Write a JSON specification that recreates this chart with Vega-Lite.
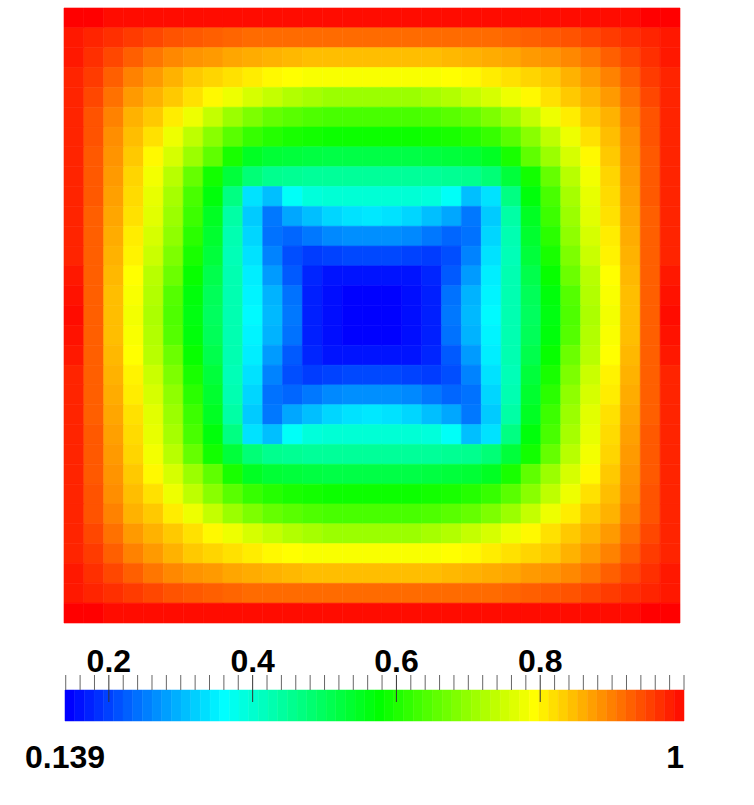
{"$schema":"https://vega.github.io/schema/vega-lite/v6.json","background":"white","padding":{"left":24,"top":7,"right":0,"bottom":0},"bounds":"flush","spacing":67,"config":{"view":{"stroke":null}},"vconcat":[{"width":616,"height":615,"data":{"values":[
{"x":0,"y":0,"v":1},{"x":1,"y":0,"v":1},{"x":2,"y":0,"v":0.99},{"x":3,"y":0,"v":0.99},{"x":4,"y":0,"v":0.99},{"x":5,"y":0,"v":0.99},{"x":6,"y":0,"v":0.99},{"x":7,"y":0,"v":0.99},{"x":8,"y":0,"v":0.99},{"x":9,"y":0,"v":0.99},{"x":10,"y":0,"v":0.99},{"x":11,"y":0,"v":0.99},{"x":12,"y":0,"v":0.99},{"x":13,"y":0,"v":0.99},{"x":14,"y":0,"v":0.99},{"x":15,"y":0,"v":0.99},{"x":16,"y":0,"v":0.99},{"x":17,"y":0,"v":0.99},{"x":18,"y":0,"v":0.99},{"x":19,"y":0,"v":0.99},{"x":20,"y":0,"v":0.99},{"x":21,"y":0,"v":0.99},{"x":22,"y":0,"v":0.99},{"x":23,"y":0,"v":0.99},{"x":24,"y":0,"v":0.99},{"x":25,"y":0,"v":0.99},{"x":26,"y":0,"v":0.99},{"x":27,"y":0,"v":0.99},{"x":28,"y":0,"v":0.99},{"x":29,"y":0,"v":1},{"x":30,"y":0,"v":1},
{"x":0,"y":1,"v":0.98},{"x":1,"y":1,"v":0.97},{"x":2,"y":1,"v":0.96},{"x":3,"y":1,"v":0.95},{"x":4,"y":1,"v":0.94},{"x":5,"y":1,"v":0.93},{"x":6,"y":1,"v":0.925},{"x":7,"y":1,"v":0.92},{"x":8,"y":1,"v":0.915},{"x":9,"y":1,"v":0.91},{"x":10,"y":1,"v":0.91},{"x":11,"y":1,"v":0.91},{"x":12,"y":1,"v":0.91},{"x":13,"y":1,"v":0.91},{"x":14,"y":1,"v":0.91},{"x":15,"y":1,"v":0.91},{"x":16,"y":1,"v":0.91},{"x":17,"y":1,"v":0.91},{"x":18,"y":1,"v":0.91},{"x":19,"y":1,"v":0.91},{"x":20,"y":1,"v":0.91},{"x":21,"y":1,"v":0.91},{"x":22,"y":1,"v":0.915},{"x":23,"y":1,"v":0.92},{"x":24,"y":1,"v":0.925},{"x":25,"y":1,"v":0.93},{"x":26,"y":1,"v":0.94},{"x":27,"y":1,"v":0.95},{"x":28,"y":1,"v":0.96},{"x":29,"y":1,"v":0.97},{"x":30,"y":1,"v":0.98},
{"x":0,"y":2,"v":0.98},{"x":1,"y":2,"v":0.96},{"x":2,"y":2,"v":0.94},{"x":3,"y":2,"v":0.92},{"x":4,"y":2,"v":0.9},{"x":5,"y":2,"v":0.885},{"x":6,"y":2,"v":0.875},{"x":7,"y":2,"v":0.87},{"x":8,"y":2,"v":0.86},{"x":9,"y":2,"v":0.855},{"x":10,"y":2,"v":0.85},{"x":11,"y":2,"v":0.845},{"x":12,"y":2,"v":0.84},{"x":13,"y":2,"v":0.84},{"x":14,"y":2,"v":0.84},{"x":15,"y":2,"v":0.84},{"x":16,"y":2,"v":0.84},{"x":17,"y":2,"v":0.84},{"x":18,"y":2,"v":0.84},{"x":19,"y":2,"v":0.845},{"x":20,"y":2,"v":0.85},{"x":21,"y":2,"v":0.855},{"x":22,"y":2,"v":0.86},{"x":23,"y":2,"v":0.87},{"x":24,"y":2,"v":0.875},{"x":25,"y":2,"v":0.885},{"x":26,"y":2,"v":0.9},{"x":27,"y":2,"v":0.92},{"x":28,"y":2,"v":0.94},{"x":29,"y":2,"v":0.96},{"x":30,"y":2,"v":0.98},
{"x":0,"y":3,"v":0.97},{"x":1,"y":3,"v":0.95},{"x":2,"y":3,"v":0.92},{"x":3,"y":3,"v":0.89},{"x":4,"y":3,"v":0.87},{"x":5,"y":3,"v":0.85},{"x":6,"y":3,"v":0.83},{"x":7,"y":3,"v":0.82},{"x":8,"y":3,"v":0.81},{"x":9,"y":3,"v":0.8},{"x":10,"y":3,"v":0.79},{"x":11,"y":3,"v":0.785},{"x":12,"y":3,"v":0.78},{"x":13,"y":3,"v":0.78},{"x":14,"y":3,"v":0.78},{"x":15,"y":3,"v":0.78},{"x":16,"y":3,"v":0.78},{"x":17,"y":3,"v":0.78},{"x":18,"y":3,"v":0.78},{"x":19,"y":3,"v":0.785},{"x":20,"y":3,"v":0.79},{"x":21,"y":3,"v":0.8},{"x":22,"y":3,"v":0.81},{"x":23,"y":3,"v":0.82},{"x":24,"y":3,"v":0.83},{"x":25,"y":3,"v":0.85},{"x":26,"y":3,"v":0.87},{"x":27,"y":3,"v":0.89},{"x":28,"y":3,"v":0.92},{"x":29,"y":3,"v":0.95},{"x":30,"y":3,"v":0.97},
{"x":0,"y":4,"v":0.97},{"x":1,"y":4,"v":0.94},{"x":2,"y":4,"v":0.905},{"x":3,"y":4,"v":0.87},{"x":4,"y":4,"v":0.85},{"x":5,"y":4,"v":0.83},{"x":6,"y":4,"v":0.81},{"x":7,"y":4,"v":0.79},{"x":8,"y":4,"v":0.77},{"x":9,"y":4,"v":0.75},{"x":10,"y":4,"v":0.735},{"x":11,"y":4,"v":0.72},{"x":12,"y":4,"v":0.71},{"x":13,"y":4,"v":0.7},{"x":14,"y":4,"v":0.7},{"x":15,"y":4,"v":0.7},{"x":16,"y":4,"v":0.7},{"x":17,"y":4,"v":0.7},{"x":18,"y":4,"v":0.71},{"x":19,"y":4,"v":0.72},{"x":20,"y":4,"v":0.735},{"x":21,"y":4,"v":0.75},{"x":22,"y":4,"v":0.77},{"x":23,"y":4,"v":0.79},{"x":24,"y":4,"v":0.81},{"x":25,"y":4,"v":0.83},{"x":26,"y":4,"v":0.85},{"x":27,"y":4,"v":0.87},{"x":28,"y":4,"v":0.905},{"x":29,"y":4,"v":0.94},{"x":30,"y":4,"v":0.97},
{"x":0,"y":5,"v":0.97},{"x":1,"y":5,"v":0.93},{"x":2,"y":5,"v":0.89},{"x":3,"y":5,"v":0.85},{"x":4,"y":5,"v":0.83},{"x":5,"y":5,"v":0.8},{"x":6,"y":5,"v":0.77},{"x":7,"y":5,"v":0.735},{"x":8,"y":5,"v":0.7},{"x":9,"y":5,"v":0.675},{"x":10,"y":5,"v":0.655},{"x":11,"y":5,"v":0.645},{"x":12,"y":5,"v":0.635},{"x":13,"y":5,"v":0.63},{"x":14,"y":5,"v":0.63},{"x":15,"y":5,"v":0.63},{"x":16,"y":5,"v":0.63},{"x":17,"y":5,"v":0.63},{"x":18,"y":5,"v":0.635},{"x":19,"y":5,"v":0.645},{"x":20,"y":5,"v":0.655},{"x":21,"y":5,"v":0.675},{"x":22,"y":5,"v":0.7},{"x":23,"y":5,"v":0.735},{"x":24,"y":5,"v":0.77},{"x":25,"y":5,"v":0.8},{"x":26,"y":5,"v":0.83},{"x":27,"y":5,"v":0.85},{"x":28,"y":5,"v":0.89},{"x":29,"y":5,"v":0.93},{"x":30,"y":5,"v":0.97},
{"x":0,"y":6,"v":0.97},{"x":1,"y":6,"v":0.93},{"x":2,"y":6,"v":0.88},{"x":3,"y":6,"v":0.84},{"x":4,"y":6,"v":0.81},{"x":5,"y":6,"v":0.77},{"x":6,"y":6,"v":0.73},{"x":7,"y":6,"v":0.685},{"x":8,"y":6,"v":0.645},{"x":9,"y":6,"v":0.615},{"x":10,"y":6,"v":0.6},{"x":11,"y":6,"v":0.59},{"x":12,"y":6,"v":0.585},{"x":13,"y":6,"v":0.58},{"x":14,"y":6,"v":0.58},{"x":15,"y":6,"v":0.58},{"x":16,"y":6,"v":0.58},{"x":17,"y":6,"v":0.58},{"x":18,"y":6,"v":0.585},{"x":19,"y":6,"v":0.59},{"x":20,"y":6,"v":0.6},{"x":21,"y":6,"v":0.615},{"x":22,"y":6,"v":0.645},{"x":23,"y":6,"v":0.685},{"x":24,"y":6,"v":0.73},{"x":25,"y":6,"v":0.77},{"x":26,"y":6,"v":0.81},{"x":27,"y":6,"v":0.84},{"x":28,"y":6,"v":0.88},{"x":29,"y":6,"v":0.93},{"x":30,"y":6,"v":0.97},
{"x":0,"y":7,"v":0.97},{"x":1,"y":7,"v":0.925},{"x":2,"y":7,"v":0.875},{"x":3,"y":7,"v":0.83},{"x":4,"y":7,"v":0.79},{"x":5,"y":7,"v":0.75},{"x":6,"y":7,"v":0.7},{"x":7,"y":7,"v":0.65},{"x":8,"y":7,"v":0.59},{"x":9,"y":7,"v":0.54},{"x":10,"y":7,"v":0.525},{"x":11,"y":7,"v":0.52},{"x":12,"y":7,"v":0.515},{"x":13,"y":7,"v":0.51},{"x":14,"y":7,"v":0.51},{"x":15,"y":7,"v":0.51},{"x":16,"y":7,"v":0.51},{"x":17,"y":7,"v":0.51},{"x":18,"y":7,"v":0.515},{"x":19,"y":7,"v":0.52},{"x":20,"y":7,"v":0.525},{"x":21,"y":7,"v":0.54},{"x":22,"y":7,"v":0.59},{"x":23,"y":7,"v":0.65},{"x":24,"y":7,"v":0.7},{"x":25,"y":7,"v":0.75},{"x":26,"y":7,"v":0.79},{"x":27,"y":7,"v":0.83},{"x":28,"y":7,"v":0.875},{"x":29,"y":7,"v":0.925},{"x":30,"y":7,"v":0.97},
{"x":0,"y":8,"v":0.97},{"x":1,"y":8,"v":0.925},{"x":2,"y":8,"v":0.87},{"x":3,"y":8,"v":0.82},{"x":4,"y":8,"v":0.775},{"x":5,"y":8,"v":0.725},{"x":6,"y":8,"v":0.655},{"x":7,"y":8,"v":0.585},{"x":8,"y":8,"v":0.52},{"x":9,"y":8,"v":0.47},{"x":10,"y":8,"v":0.45},{"x":11,"y":8,"v":0.445},{"x":12,"y":8,"v":0.44},{"x":13,"y":8,"v":0.44},{"x":14,"y":8,"v":0.44},{"x":15,"y":8,"v":0.44},{"x":16,"y":8,"v":0.44},{"x":17,"y":8,"v":0.44},{"x":18,"y":8,"v":0.44},{"x":19,"y":8,"v":0.445},{"x":20,"y":8,"v":0.45},{"x":21,"y":8,"v":0.47},{"x":22,"y":8,"v":0.52},{"x":23,"y":8,"v":0.585},{"x":24,"y":8,"v":0.655},{"x":25,"y":8,"v":0.725},{"x":26,"y":8,"v":0.775},{"x":27,"y":8,"v":0.82},{"x":28,"y":8,"v":0.87},{"x":29,"y":8,"v":0.925},{"x":30,"y":8,"v":0.97},
{"x":0,"y":9,"v":0.97},{"x":1,"y":9,"v":0.925},{"x":2,"y":9,"v":0.865},{"x":3,"y":9,"v":0.815},{"x":4,"y":9,"v":0.765},{"x":5,"y":9,"v":0.71},{"x":6,"y":9,"v":0.63},{"x":7,"y":9,"v":0.56},{"x":8,"y":9,"v":0.46},{"x":9,"y":9,"v":0.33},{"x":10,"y":9,"v":0.3},{"x":11,"y":9,"v":0.36},{"x":12,"y":9,"v":0.385},{"x":13,"y":9,"v":0.39},{"x":14,"y":9,"v":0.39},{"x":15,"y":9,"v":0.39},{"x":16,"y":9,"v":0.39},{"x":17,"y":9,"v":0.39},{"x":18,"y":9,"v":0.385},{"x":19,"y":9,"v":0.36},{"x":20,"y":9,"v":0.3},{"x":21,"y":9,"v":0.33},{"x":22,"y":9,"v":0.46},{"x":23,"y":9,"v":0.56},{"x":24,"y":9,"v":0.63},{"x":25,"y":9,"v":0.71},{"x":26,"y":9,"v":0.765},{"x":27,"y":9,"v":0.815},{"x":28,"y":9,"v":0.865},{"x":29,"y":9,"v":0.925},{"x":30,"y":9,"v":0.97},
{"x":0,"y":10,"v":0.97},{"x":1,"y":10,"v":0.92},{"x":2,"y":10,"v":0.86},{"x":3,"y":10,"v":0.81},{"x":4,"y":10,"v":0.76},{"x":5,"y":10,"v":0.7},{"x":6,"y":10,"v":0.62},{"x":7,"y":10,"v":0.54},{"x":8,"y":10,"v":0.43},{"x":9,"y":10,"v":0.31},{"x":10,"y":10,"v":0.24},{"x":11,"y":10,"v":0.28},{"x":12,"y":10,"v":0.3},{"x":13,"y":10,"v":0.32},{"x":14,"y":10,"v":0.33},{"x":15,"y":10,"v":0.335},{"x":16,"y":10,"v":0.33},{"x":17,"y":10,"v":0.32},{"x":18,"y":10,"v":0.3},{"x":19,"y":10,"v":0.28},{"x":20,"y":10,"v":0.24},{"x":21,"y":10,"v":0.31},{"x":22,"y":10,"v":0.43},{"x":23,"y":10,"v":0.54},{"x":24,"y":10,"v":0.62},{"x":25,"y":10,"v":0.7},{"x":26,"y":10,"v":0.76},{"x":27,"y":10,"v":0.81},{"x":28,"y":10,"v":0.86},{"x":29,"y":10,"v":0.92},{"x":30,"y":10,"v":0.97},
{"x":0,"y":11,"v":0.97},{"x":1,"y":11,"v":0.92},{"x":2,"y":11,"v":0.855},{"x":3,"y":11,"v":0.8},{"x":4,"y":11,"v":0.75},{"x":5,"y":11,"v":0.69},{"x":6,"y":11,"v":0.605},{"x":7,"y":11,"v":0.53},{"x":8,"y":11,"v":0.42},{"x":9,"y":11,"v":0.32},{"x":10,"y":11,"v":0.235},{"x":11,"y":11,"v":0.225},{"x":12,"y":11,"v":0.24},{"x":13,"y":11,"v":0.255},{"x":14,"y":11,"v":0.26},{"x":15,"y":11,"v":0.26},{"x":16,"y":11,"v":0.26},{"x":17,"y":11,"v":0.255},{"x":18,"y":11,"v":0.24},{"x":19,"y":11,"v":0.225},{"x":20,"y":11,"v":0.235},{"x":21,"y":11,"v":0.32},{"x":22,"y":11,"v":0.42},{"x":23,"y":11,"v":0.53},{"x":24,"y":11,"v":0.605},{"x":25,"y":11,"v":0.69},{"x":26,"y":11,"v":0.75},{"x":27,"y":11,"v":0.8},{"x":28,"y":11,"v":0.855},{"x":29,"y":11,"v":0.92},{"x":30,"y":11,"v":0.97},
{"x":0,"y":12,"v":0.97},{"x":1,"y":12,"v":0.92},{"x":2,"y":12,"v":0.85},{"x":3,"y":12,"v":0.795},{"x":4,"y":12,"v":0.74},{"x":5,"y":12,"v":0.675},{"x":6,"y":12,"v":0.59},{"x":7,"y":12,"v":0.52},{"x":8,"y":12,"v":0.415},{"x":9,"y":12,"v":0.33},{"x":10,"y":12,"v":0.25},{"x":11,"y":12,"v":0.205},{"x":12,"y":12,"v":0.19},{"x":13,"y":12,"v":0.195},{"x":14,"y":12,"v":0.2},{"x":15,"y":12,"v":0.2},{"x":16,"y":12,"v":0.2},{"x":17,"y":12,"v":0.195},{"x":18,"y":12,"v":0.19},{"x":19,"y":12,"v":0.205},{"x":20,"y":12,"v":0.25},{"x":21,"y":12,"v":0.33},{"x":22,"y":12,"v":0.415},{"x":23,"y":12,"v":0.52},{"x":24,"y":12,"v":0.59},{"x":25,"y":12,"v":0.675},{"x":26,"y":12,"v":0.74},{"x":27,"y":12,"v":0.795},{"x":28,"y":12,"v":0.85},{"x":29,"y":12,"v":0.92},{"x":30,"y":12,"v":0.97},
{"x":0,"y":13,"v":0.98},{"x":1,"y":13,"v":0.92},{"x":2,"y":13,"v":0.845},{"x":3,"y":13,"v":0.785},{"x":4,"y":13,"v":0.725},{"x":5,"y":13,"v":0.66},{"x":6,"y":13,"v":0.575},{"x":7,"y":13,"v":0.505},{"x":8,"y":13,"v":0.42},{"x":9,"y":13,"v":0.34},{"x":10,"y":13,"v":0.27},{"x":11,"y":13,"v":0.215},{"x":12,"y":13,"v":0.17},{"x":13,"y":13,"v":0.155},{"x":14,"y":13,"v":0.155},{"x":15,"y":13,"v":0.155},{"x":16,"y":13,"v":0.155},{"x":17,"y":13,"v":0.155},{"x":18,"y":13,"v":0.17},{"x":19,"y":13,"v":0.215},{"x":20,"y":13,"v":0.27},{"x":21,"y":13,"v":0.34},{"x":22,"y":13,"v":0.42},{"x":23,"y":13,"v":0.505},{"x":24,"y":13,"v":0.575},{"x":25,"y":13,"v":0.66},{"x":26,"y":13,"v":0.725},{"x":27,"y":13,"v":0.785},{"x":28,"y":13,"v":0.845},{"x":29,"y":13,"v":0.92},{"x":30,"y":13,"v":0.98},
{"x":0,"y":14,"v":0.985},{"x":1,"y":14,"v":0.92},{"x":2,"y":14,"v":0.84},{"x":3,"y":14,"v":0.78},{"x":4,"y":14,"v":0.72},{"x":5,"y":14,"v":0.64},{"x":6,"y":14,"v":0.56},{"x":7,"y":14,"v":0.495},{"x":8,"y":14,"v":0.42},{"x":9,"y":14,"v":0.345},{"x":10,"y":14,"v":0.29},{"x":11,"y":14,"v":0.235},{"x":12,"y":14,"v":0.165},{"x":13,"y":14,"v":0.15},{"x":14,"y":14,"v":0.14},{"x":15,"y":14,"v":0.14},{"x":16,"y":14,"v":0.14},{"x":17,"y":14,"v":0.15},{"x":18,"y":14,"v":0.165},{"x":19,"y":14,"v":0.235},{"x":20,"y":14,"v":0.29},{"x":21,"y":14,"v":0.345},{"x":22,"y":14,"v":0.42},{"x":23,"y":14,"v":0.495},{"x":24,"y":14,"v":0.56},{"x":25,"y":14,"v":0.64},{"x":26,"y":14,"v":0.72},{"x":27,"y":14,"v":0.78},{"x":28,"y":14,"v":0.84},{"x":29,"y":14,"v":0.92},{"x":30,"y":14,"v":0.985},
{"x":0,"y":15,"v":0.99},{"x":1,"y":15,"v":0.92},{"x":2,"y":15,"v":0.84},{"x":3,"y":15,"v":0.775},{"x":4,"y":15,"v":0.715},{"x":5,"y":15,"v":0.635},{"x":6,"y":15,"v":0.555},{"x":7,"y":15,"v":0.49},{"x":8,"y":15,"v":0.42},{"x":9,"y":15,"v":0.35},{"x":10,"y":15,"v":0.295},{"x":11,"y":15,"v":0.24},{"x":12,"y":15,"v":0.165},{"x":13,"y":15,"v":0.15},{"x":14,"y":15,"v":0.14},{"x":15,"y":15,"v":0.139},{"x":16,"y":15,"v":0.14},{"x":17,"y":15,"v":0.15},{"x":18,"y":15,"v":0.165},{"x":19,"y":15,"v":0.24},{"x":20,"y":15,"v":0.295},{"x":21,"y":15,"v":0.35},{"x":22,"y":15,"v":0.42},{"x":23,"y":15,"v":0.49},{"x":24,"y":15,"v":0.555},{"x":25,"y":15,"v":0.635},{"x":26,"y":15,"v":0.715},{"x":27,"y":15,"v":0.775},{"x":28,"y":15,"v":0.84},{"x":29,"y":15,"v":0.92},{"x":30,"y":15,"v":0.99},
{"x":0,"y":16,"v":0.985},{"x":1,"y":16,"v":0.92},{"x":2,"y":16,"v":0.84},{"x":3,"y":16,"v":0.78},{"x":4,"y":16,"v":0.72},{"x":5,"y":16,"v":0.64},{"x":6,"y":16,"v":0.56},{"x":7,"y":16,"v":0.495},{"x":8,"y":16,"v":0.42},{"x":9,"y":16,"v":0.345},{"x":10,"y":16,"v":0.29},{"x":11,"y":16,"v":0.235},{"x":12,"y":16,"v":0.165},{"x":13,"y":16,"v":0.15},{"x":14,"y":16,"v":0.14},{"x":15,"y":16,"v":0.14},{"x":16,"y":16,"v":0.14},{"x":17,"y":16,"v":0.15},{"x":18,"y":16,"v":0.165},{"x":19,"y":16,"v":0.235},{"x":20,"y":16,"v":0.29},{"x":21,"y":16,"v":0.345},{"x":22,"y":16,"v":0.42},{"x":23,"y":16,"v":0.495},{"x":24,"y":16,"v":0.56},{"x":25,"y":16,"v":0.64},{"x":26,"y":16,"v":0.72},{"x":27,"y":16,"v":0.78},{"x":28,"y":16,"v":0.84},{"x":29,"y":16,"v":0.92},{"x":30,"y":16,"v":0.985},
{"x":0,"y":17,"v":0.98},{"x":1,"y":17,"v":0.92},{"x":2,"y":17,"v":0.845},{"x":3,"y":17,"v":0.785},{"x":4,"y":17,"v":0.725},{"x":5,"y":17,"v":0.66},{"x":6,"y":17,"v":0.575},{"x":7,"y":17,"v":0.505},{"x":8,"y":17,"v":0.42},{"x":9,"y":17,"v":0.34},{"x":10,"y":17,"v":0.27},{"x":11,"y":17,"v":0.215},{"x":12,"y":17,"v":0.17},{"x":13,"y":17,"v":0.155},{"x":14,"y":17,"v":0.155},{"x":15,"y":17,"v":0.155},{"x":16,"y":17,"v":0.155},{"x":17,"y":17,"v":0.155},{"x":18,"y":17,"v":0.17},{"x":19,"y":17,"v":0.215},{"x":20,"y":17,"v":0.27},{"x":21,"y":17,"v":0.34},{"x":22,"y":17,"v":0.42},{"x":23,"y":17,"v":0.505},{"x":24,"y":17,"v":0.575},{"x":25,"y":17,"v":0.66},{"x":26,"y":17,"v":0.725},{"x":27,"y":17,"v":0.785},{"x":28,"y":17,"v":0.845},{"x":29,"y":17,"v":0.92},{"x":30,"y":17,"v":0.98},
{"x":0,"y":18,"v":0.97},{"x":1,"y":18,"v":0.92},{"x":2,"y":18,"v":0.85},{"x":3,"y":18,"v":0.795},{"x":4,"y":18,"v":0.74},{"x":5,"y":18,"v":0.675},{"x":6,"y":18,"v":0.59},{"x":7,"y":18,"v":0.52},{"x":8,"y":18,"v":0.415},{"x":9,"y":18,"v":0.33},{"x":10,"y":18,"v":0.25},{"x":11,"y":18,"v":0.205},{"x":12,"y":18,"v":0.19},{"x":13,"y":18,"v":0.195},{"x":14,"y":18,"v":0.2},{"x":15,"y":18,"v":0.2},{"x":16,"y":18,"v":0.2},{"x":17,"y":18,"v":0.195},{"x":18,"y":18,"v":0.19},{"x":19,"y":18,"v":0.205},{"x":20,"y":18,"v":0.25},{"x":21,"y":18,"v":0.33},{"x":22,"y":18,"v":0.415},{"x":23,"y":18,"v":0.52},{"x":24,"y":18,"v":0.59},{"x":25,"y":18,"v":0.675},{"x":26,"y":18,"v":0.74},{"x":27,"y":18,"v":0.795},{"x":28,"y":18,"v":0.85},{"x":29,"y":18,"v":0.92},{"x":30,"y":18,"v":0.97},
{"x":0,"y":19,"v":0.97},{"x":1,"y":19,"v":0.92},{"x":2,"y":19,"v":0.855},{"x":3,"y":19,"v":0.8},{"x":4,"y":19,"v":0.75},{"x":5,"y":19,"v":0.69},{"x":6,"y":19,"v":0.605},{"x":7,"y":19,"v":0.53},{"x":8,"y":19,"v":0.42},{"x":9,"y":19,"v":0.32},{"x":10,"y":19,"v":0.235},{"x":11,"y":19,"v":0.225},{"x":12,"y":19,"v":0.24},{"x":13,"y":19,"v":0.255},{"x":14,"y":19,"v":0.26},{"x":15,"y":19,"v":0.26},{"x":16,"y":19,"v":0.26},{"x":17,"y":19,"v":0.255},{"x":18,"y":19,"v":0.24},{"x":19,"y":19,"v":0.225},{"x":20,"y":19,"v":0.235},{"x":21,"y":19,"v":0.32},{"x":22,"y":19,"v":0.42},{"x":23,"y":19,"v":0.53},{"x":24,"y":19,"v":0.605},{"x":25,"y":19,"v":0.69},{"x":26,"y":19,"v":0.75},{"x":27,"y":19,"v":0.8},{"x":28,"y":19,"v":0.855},{"x":29,"y":19,"v":0.92},{"x":30,"y":19,"v":0.97},
{"x":0,"y":20,"v":0.97},{"x":1,"y":20,"v":0.92},{"x":2,"y":20,"v":0.86},{"x":3,"y":20,"v":0.81},{"x":4,"y":20,"v":0.76},{"x":5,"y":20,"v":0.7},{"x":6,"y":20,"v":0.62},{"x":7,"y":20,"v":0.54},{"x":8,"y":20,"v":0.43},{"x":9,"y":20,"v":0.31},{"x":10,"y":20,"v":0.24},{"x":11,"y":20,"v":0.28},{"x":12,"y":20,"v":0.3},{"x":13,"y":20,"v":0.32},{"x":14,"y":20,"v":0.33},{"x":15,"y":20,"v":0.335},{"x":16,"y":20,"v":0.33},{"x":17,"y":20,"v":0.32},{"x":18,"y":20,"v":0.3},{"x":19,"y":20,"v":0.28},{"x":20,"y":20,"v":0.24},{"x":21,"y":20,"v":0.31},{"x":22,"y":20,"v":0.43},{"x":23,"y":20,"v":0.54},{"x":24,"y":20,"v":0.62},{"x":25,"y":20,"v":0.7},{"x":26,"y":20,"v":0.76},{"x":27,"y":20,"v":0.81},{"x":28,"y":20,"v":0.86},{"x":29,"y":20,"v":0.92},{"x":30,"y":20,"v":0.97},
{"x":0,"y":21,"v":0.97},{"x":1,"y":21,"v":0.925},{"x":2,"y":21,"v":0.865},{"x":3,"y":21,"v":0.815},{"x":4,"y":21,"v":0.765},{"x":5,"y":21,"v":0.71},{"x":6,"y":21,"v":0.63},{"x":7,"y":21,"v":0.56},{"x":8,"y":21,"v":0.46},{"x":9,"y":21,"v":0.33},{"x":10,"y":21,"v":0.3},{"x":11,"y":21,"v":0.36},{"x":12,"y":21,"v":0.385},{"x":13,"y":21,"v":0.39},{"x":14,"y":21,"v":0.39},{"x":15,"y":21,"v":0.39},{"x":16,"y":21,"v":0.39},{"x":17,"y":21,"v":0.39},{"x":18,"y":21,"v":0.385},{"x":19,"y":21,"v":0.36},{"x":20,"y":21,"v":0.3},{"x":21,"y":21,"v":0.33},{"x":22,"y":21,"v":0.46},{"x":23,"y":21,"v":0.56},{"x":24,"y":21,"v":0.63},{"x":25,"y":21,"v":0.71},{"x":26,"y":21,"v":0.765},{"x":27,"y":21,"v":0.815},{"x":28,"y":21,"v":0.865},{"x":29,"y":21,"v":0.925},{"x":30,"y":21,"v":0.97},
{"x":0,"y":22,"v":0.97},{"x":1,"y":22,"v":0.925},{"x":2,"y":22,"v":0.87},{"x":3,"y":22,"v":0.82},{"x":4,"y":22,"v":0.775},{"x":5,"y":22,"v":0.725},{"x":6,"y":22,"v":0.655},{"x":7,"y":22,"v":0.585},{"x":8,"y":22,"v":0.52},{"x":9,"y":22,"v":0.47},{"x":10,"y":22,"v":0.45},{"x":11,"y":22,"v":0.445},{"x":12,"y":22,"v":0.44},{"x":13,"y":22,"v":0.44},{"x":14,"y":22,"v":0.44},{"x":15,"y":22,"v":0.44},{"x":16,"y":22,"v":0.44},{"x":17,"y":22,"v":0.44},{"x":18,"y":22,"v":0.44},{"x":19,"y":22,"v":0.445},{"x":20,"y":22,"v":0.45},{"x":21,"y":22,"v":0.47},{"x":22,"y":22,"v":0.52},{"x":23,"y":22,"v":0.585},{"x":24,"y":22,"v":0.655},{"x":25,"y":22,"v":0.725},{"x":26,"y":22,"v":0.775},{"x":27,"y":22,"v":0.82},{"x":28,"y":22,"v":0.87},{"x":29,"y":22,"v":0.925},{"x":30,"y":22,"v":0.97},
{"x":0,"y":23,"v":0.97},{"x":1,"y":23,"v":0.925},{"x":2,"y":23,"v":0.875},{"x":3,"y":23,"v":0.83},{"x":4,"y":23,"v":0.79},{"x":5,"y":23,"v":0.75},{"x":6,"y":23,"v":0.7},{"x":7,"y":23,"v":0.65},{"x":8,"y":23,"v":0.59},{"x":9,"y":23,"v":0.54},{"x":10,"y":23,"v":0.525},{"x":11,"y":23,"v":0.52},{"x":12,"y":23,"v":0.515},{"x":13,"y":23,"v":0.51},{"x":14,"y":23,"v":0.51},{"x":15,"y":23,"v":0.51},{"x":16,"y":23,"v":0.51},{"x":17,"y":23,"v":0.51},{"x":18,"y":23,"v":0.515},{"x":19,"y":23,"v":0.52},{"x":20,"y":23,"v":0.525},{"x":21,"y":23,"v":0.54},{"x":22,"y":23,"v":0.59},{"x":23,"y":23,"v":0.65},{"x":24,"y":23,"v":0.7},{"x":25,"y":23,"v":0.75},{"x":26,"y":23,"v":0.79},{"x":27,"y":23,"v":0.83},{"x":28,"y":23,"v":0.875},{"x":29,"y":23,"v":0.925},{"x":30,"y":23,"v":0.97},
{"x":0,"y":24,"v":0.97},{"x":1,"y":24,"v":0.93},{"x":2,"y":24,"v":0.88},{"x":3,"y":24,"v":0.84},{"x":4,"y":24,"v":0.81},{"x":5,"y":24,"v":0.77},{"x":6,"y":24,"v":0.73},{"x":7,"y":24,"v":0.685},{"x":8,"y":24,"v":0.645},{"x":9,"y":24,"v":0.615},{"x":10,"y":24,"v":0.6},{"x":11,"y":24,"v":0.59},{"x":12,"y":24,"v":0.585},{"x":13,"y":24,"v":0.58},{"x":14,"y":24,"v":0.58},{"x":15,"y":24,"v":0.58},{"x":16,"y":24,"v":0.58},{"x":17,"y":24,"v":0.58},{"x":18,"y":24,"v":0.585},{"x":19,"y":24,"v":0.59},{"x":20,"y":24,"v":0.6},{"x":21,"y":24,"v":0.615},{"x":22,"y":24,"v":0.645},{"x":23,"y":24,"v":0.685},{"x":24,"y":24,"v":0.73},{"x":25,"y":24,"v":0.77},{"x":26,"y":24,"v":0.81},{"x":27,"y":24,"v":0.84},{"x":28,"y":24,"v":0.88},{"x":29,"y":24,"v":0.93},{"x":30,"y":24,"v":0.97},
{"x":0,"y":25,"v":0.97},{"x":1,"y":25,"v":0.93},{"x":2,"y":25,"v":0.89},{"x":3,"y":25,"v":0.85},{"x":4,"y":25,"v":0.83},{"x":5,"y":25,"v":0.8},{"x":6,"y":25,"v":0.77},{"x":7,"y":25,"v":0.735},{"x":8,"y":25,"v":0.7},{"x":9,"y":25,"v":0.675},{"x":10,"y":25,"v":0.655},{"x":11,"y":25,"v":0.645},{"x":12,"y":25,"v":0.635},{"x":13,"y":25,"v":0.63},{"x":14,"y":25,"v":0.63},{"x":15,"y":25,"v":0.63},{"x":16,"y":25,"v":0.63},{"x":17,"y":25,"v":0.63},{"x":18,"y":25,"v":0.635},{"x":19,"y":25,"v":0.645},{"x":20,"y":25,"v":0.655},{"x":21,"y":25,"v":0.675},{"x":22,"y":25,"v":0.7},{"x":23,"y":25,"v":0.735},{"x":24,"y":25,"v":0.77},{"x":25,"y":25,"v":0.8},{"x":26,"y":25,"v":0.83},{"x":27,"y":25,"v":0.85},{"x":28,"y":25,"v":0.89},{"x":29,"y":25,"v":0.93},{"x":30,"y":25,"v":0.97},
{"x":0,"y":26,"v":0.97},{"x":1,"y":26,"v":0.94},{"x":2,"y":26,"v":0.905},{"x":3,"y":26,"v":0.87},{"x":4,"y":26,"v":0.85},{"x":5,"y":26,"v":0.83},{"x":6,"y":26,"v":0.81},{"x":7,"y":26,"v":0.79},{"x":8,"y":26,"v":0.77},{"x":9,"y":26,"v":0.75},{"x":10,"y":26,"v":0.735},{"x":11,"y":26,"v":0.72},{"x":12,"y":26,"v":0.71},{"x":13,"y":26,"v":0.7},{"x":14,"y":26,"v":0.7},{"x":15,"y":26,"v":0.7},{"x":16,"y":26,"v":0.7},{"x":17,"y":26,"v":0.7},{"x":18,"y":26,"v":0.71},{"x":19,"y":26,"v":0.72},{"x":20,"y":26,"v":0.735},{"x":21,"y":26,"v":0.75},{"x":22,"y":26,"v":0.77},{"x":23,"y":26,"v":0.79},{"x":24,"y":26,"v":0.81},{"x":25,"y":26,"v":0.83},{"x":26,"y":26,"v":0.85},{"x":27,"y":26,"v":0.87},{"x":28,"y":26,"v":0.905},{"x":29,"y":26,"v":0.94},{"x":30,"y":26,"v":0.97},
{"x":0,"y":27,"v":0.97},{"x":1,"y":27,"v":0.95},{"x":2,"y":27,"v":0.92},{"x":3,"y":27,"v":0.89},{"x":4,"y":27,"v":0.87},{"x":5,"y":27,"v":0.85},{"x":6,"y":27,"v":0.83},{"x":7,"y":27,"v":0.82},{"x":8,"y":27,"v":0.81},{"x":9,"y":27,"v":0.8},{"x":10,"y":27,"v":0.79},{"x":11,"y":27,"v":0.785},{"x":12,"y":27,"v":0.78},{"x":13,"y":27,"v":0.78},{"x":14,"y":27,"v":0.78},{"x":15,"y":27,"v":0.78},{"x":16,"y":27,"v":0.78},{"x":17,"y":27,"v":0.78},{"x":18,"y":27,"v":0.78},{"x":19,"y":27,"v":0.785},{"x":20,"y":27,"v":0.79},{"x":21,"y":27,"v":0.8},{"x":22,"y":27,"v":0.81},{"x":23,"y":27,"v":0.82},{"x":24,"y":27,"v":0.83},{"x":25,"y":27,"v":0.85},{"x":26,"y":27,"v":0.87},{"x":27,"y":27,"v":0.89},{"x":28,"y":27,"v":0.92},{"x":29,"y":27,"v":0.95},{"x":30,"y":27,"v":0.97},
{"x":0,"y":28,"v":0.98},{"x":1,"y":28,"v":0.96},{"x":2,"y":28,"v":0.94},{"x":3,"y":28,"v":0.92},{"x":4,"y":28,"v":0.9},{"x":5,"y":28,"v":0.885},{"x":6,"y":28,"v":0.875},{"x":7,"y":28,"v":0.87},{"x":8,"y":28,"v":0.86},{"x":9,"y":28,"v":0.855},{"x":10,"y":28,"v":0.85},{"x":11,"y":28,"v":0.845},{"x":12,"y":28,"v":0.84},{"x":13,"y":28,"v":0.84},{"x":14,"y":28,"v":0.84},{"x":15,"y":28,"v":0.84},{"x":16,"y":28,"v":0.84},{"x":17,"y":28,"v":0.84},{"x":18,"y":28,"v":0.84},{"x":19,"y":28,"v":0.845},{"x":20,"y":28,"v":0.85},{"x":21,"y":28,"v":0.855},{"x":22,"y":28,"v":0.86},{"x":23,"y":28,"v":0.87},{"x":24,"y":28,"v":0.875},{"x":25,"y":28,"v":0.885},{"x":26,"y":28,"v":0.9},{"x":27,"y":28,"v":0.92},{"x":28,"y":28,"v":0.94},{"x":29,"y":28,"v":0.96},{"x":30,"y":28,"v":0.98},
{"x":0,"y":29,"v":0.98},{"x":1,"y":29,"v":0.97},{"x":2,"y":29,"v":0.96},{"x":3,"y":29,"v":0.95},{"x":4,"y":29,"v":0.94},{"x":5,"y":29,"v":0.93},{"x":6,"y":29,"v":0.925},{"x":7,"y":29,"v":0.92},{"x":8,"y":29,"v":0.915},{"x":9,"y":29,"v":0.91},{"x":10,"y":29,"v":0.91},{"x":11,"y":29,"v":0.91},{"x":12,"y":29,"v":0.91},{"x":13,"y":29,"v":0.91},{"x":14,"y":29,"v":0.91},{"x":15,"y":29,"v":0.91},{"x":16,"y":29,"v":0.91},{"x":17,"y":29,"v":0.91},{"x":18,"y":29,"v":0.91},{"x":19,"y":29,"v":0.91},{"x":20,"y":29,"v":0.91},{"x":21,"y":29,"v":0.91},{"x":22,"y":29,"v":0.915},{"x":23,"y":29,"v":0.92},{"x":24,"y":29,"v":0.925},{"x":25,"y":29,"v":0.93},{"x":26,"y":29,"v":0.94},{"x":27,"y":29,"v":0.95},{"x":28,"y":29,"v":0.96},{"x":29,"y":29,"v":0.97},{"x":30,"y":29,"v":0.98},
{"x":0,"y":30,"v":1},{"x":1,"y":30,"v":1},{"x":2,"y":30,"v":0.99},{"x":3,"y":30,"v":0.99},{"x":4,"y":30,"v":0.99},{"x":5,"y":30,"v":0.99},{"x":6,"y":30,"v":0.99},{"x":7,"y":30,"v":0.99},{"x":8,"y":30,"v":0.99},{"x":9,"y":30,"v":0.99},{"x":10,"y":30,"v":0.99},{"x":11,"y":30,"v":0.99},{"x":12,"y":30,"v":0.99},{"x":13,"y":30,"v":0.99},{"x":14,"y":30,"v":0.99},{"x":15,"y":30,"v":0.99},{"x":16,"y":30,"v":0.99},{"x":17,"y":30,"v":0.99},{"x":18,"y":30,"v":0.99},{"x":19,"y":30,"v":0.99},{"x":20,"y":30,"v":0.99},{"x":21,"y":30,"v":0.99},{"x":22,"y":30,"v":0.99},{"x":23,"y":30,"v":0.99},{"x":24,"y":30,"v":0.99},{"x":25,"y":30,"v":0.99},{"x":26,"y":30,"v":0.99},{"x":27,"y":30,"v":0.99},{"x":28,"y":30,"v":0.99},{"x":29,"y":30,"v":1},{"x":30,"y":30,"v":1}
]},"mark":{"type":"rect","strokeWidth":0.6},"encoding":{"x":{"field":"x","type":"ordinal","axis":null},"y":{"field":"y","type":"ordinal","axis":null},"color":{"field":"v","type":"quantitative","legend":null,"scale":{"interpolate":"rgb","domain":[0.139,0.354,0.57,0.785,1],"range":["#0000ff","#00ffff","#00ff00","#ffff00","#ff0000"]}},"stroke":{"field":"v","type":"quantitative","legend":null,"scale":{"interpolate":"rgb","domain":[0.139,0.354,0.57,0.785,1],"range":["#0000ff","#00ffff","#00ff00","#ffff00","#ff0000"]}}}},
{"width":620,"height":31,"layer":[
{"data":{"values":[{"a":0.139,"b":0.1525},{"a":0.1525,"b":0.1659},{"a":0.1659,"b":0.1794},{"a":0.1794,"b":0.1928},{"a":0.1928,"b":0.2063},{"a":0.2063,"b":0.2197},{"a":0.2197,"b":0.2332},{"a":0.2332,"b":0.2466},{"a":0.2466,"b":0.2601},{"a":0.2601,"b":0.2735},{"a":0.2735,"b":0.287},{"a":0.287,"b":0.3004},{"a":0.3004,"b":0.3139},{"a":0.3139,"b":0.3273},{"a":0.3273,"b":0.3408},{"a":0.3408,"b":0.3542},{"a":0.3542,"b":0.3677},{"a":0.3677,"b":0.3811},{"a":0.3811,"b":0.3946},{"a":0.3946,"b":0.408},{"a":0.408,"b":0.4215},{"a":0.4215,"b":0.4349},{"a":0.4349,"b":0.4484},{"a":0.4484,"b":0.4618},{"a":0.4618,"b":0.4753},{"a":0.4753,"b":0.4887},{"a":0.4887,"b":0.5022},{"a":0.5022,"b":0.5156},{"a":0.5156,"b":0.5291},{"a":0.5291,"b":0.5425},{"a":0.5425,"b":0.556},{"a":0.556,"b":0.5695},{"a":0.5695,"b":0.5829},{"a":0.5829,"b":0.5964},{"a":0.5964,"b":0.6098},{"a":0.6098,"b":0.6233},{"a":0.6233,"b":0.6367},{"a":0.6367,"b":0.6502},{"a":0.6502,"b":0.6636},{"a":0.6636,"b":0.6771},{"a":0.6771,"b":0.6905},{"a":0.6905,"b":0.704},{"a":0.704,"b":0.7174},{"a":0.7174,"b":0.7309},{"a":0.7309,"b":0.7443},{"a":0.7443,"b":0.7578},{"a":0.7578,"b":0.7712},{"a":0.7712,"b":0.7847},{"a":0.7847,"b":0.7981},{"a":0.7981,"b":0.8116},{"a":0.8116,"b":0.825},{"a":0.825,"b":0.8385},{"a":0.8385,"b":0.8519},{"a":0.8519,"b":0.8654},{"a":0.8654,"b":0.8788},{"a":0.8788,"b":0.8923},{"a":0.8923,"b":0.9057},{"a":0.9057,"b":0.9192},{"a":0.9192,"b":0.9326},{"a":0.9326,"b":0.9461},{"a":0.9461,"b":0.9595},{"a":0.9595,"b":0.973},{"a":0.973,"b":0.9864},{"a":0.9864,"b":1}]},
"mark":{"type":"rect","strokeWidth":0.5},"encoding":{"x":{"field":"a","type":"quantitative","axis":null,"scale":{"domain":[0.139,1],"range":[1,620],"nice":false,"zero":false}},"x2":{"field":"b"},"color":{"field":"a","type":"quantitative","legend":null,"scale":{"interpolate":"rgb","domain":[0.139,0.351,0.562,0.775,0.9864],"range":["#0000ff","#00ffff","#00ff00","#ffff00","#ff0000"]}},"stroke":{"field":"a","type":"quantitative","legend":null,"scale":{"interpolate":"rgb","domain":[0.139,0.351,0.562,0.775,0.9864],"range":["#0000ff","#00ffff","#00ff00","#ffff00","#ff0000"]}}}},
{"data":{"values":[{"t":0.14},{"t":0.16},{"t":0.18},{"t":0.22},{"t":0.24},{"t":0.26},{"t":0.28},{"t":0.3},{"t":0.32},{"t":0.34},{"t":0.36},{"t":0.38},{"t":0.42},{"t":0.44},{"t":0.46},{"t":0.48},{"t":0.5},{"t":0.52},{"t":0.54},{"t":0.56},{"t":0.58},{"t":0.62},{"t":0.64},{"t":0.66},{"t":0.68},{"t":0.7},{"t":0.72},{"t":0.74},{"t":0.76},{"t":0.78},{"t":0.82},{"t":0.84},{"t":0.86},{"t":0.88},{"t":0.9},{"t":0.92},{"t":0.94},{"t":0.96},{"t":0.98},{"t":1}]},"mark":{"type":"rule","color":"#666666","strokeWidth":1},"encoding":{"x":{"field":"t","type":"quantitative"},"y":{"datum":-15,"scale":{"domain":[0,31],"reverse":true,"nice":false,"zero":false},"axis":null},"y2":{"datum":0}}},
{"data":{"values":[{"t":0.2},{"t":0.4},{"t":0.6},{"t":0.8}]},"mark":{"type":"rule","color":"#333333","strokeWidth":1},"encoding":{"x":{"field":"t","type":"quantitative"},"y":{"datum":-15},"y2":{"datum":12}}},
{"data":{"values":[{"t":0.2},{"t":0.4},{"t":0.6},{"t":0.8}]},"mark":{"type":"text","font":"Liberation Sans","fontWeight":"bold","fontSize":32,"color":"#000000","baseline":"alphabetic","align":"center"},"encoding":{"x":{"field":"t","type":"quantitative"},"y":{"datum":-18},"text":{"field":"t","type":"quantitative","format":".1f"}}},
{"data":{"values":[{"t":0.139}]},"mark":{"type":"text","font":"Liberation Sans","fontWeight":"bold","fontSize":32,"color":"#000000","baseline":"alphabetic","align":"center"},"encoding":{"x":{"field":"t","type":"quantitative"},"y":{"datum":78},"text":{"field":"t","type":"quantitative","format":".3~f"}}},
{"data":{"values":[{"t":1}]},"mark":{"type":"text","font":"Liberation Sans","fontWeight":"bold","fontSize":32,"color":"#000000","baseline":"alphabetic","align":"right"},"encoding":{"x":{"field":"t","type":"quantitative"},"y":{"datum":78},"text":{"field":"t","type":"quantitative","format":".3~f"}}}
]}]}
